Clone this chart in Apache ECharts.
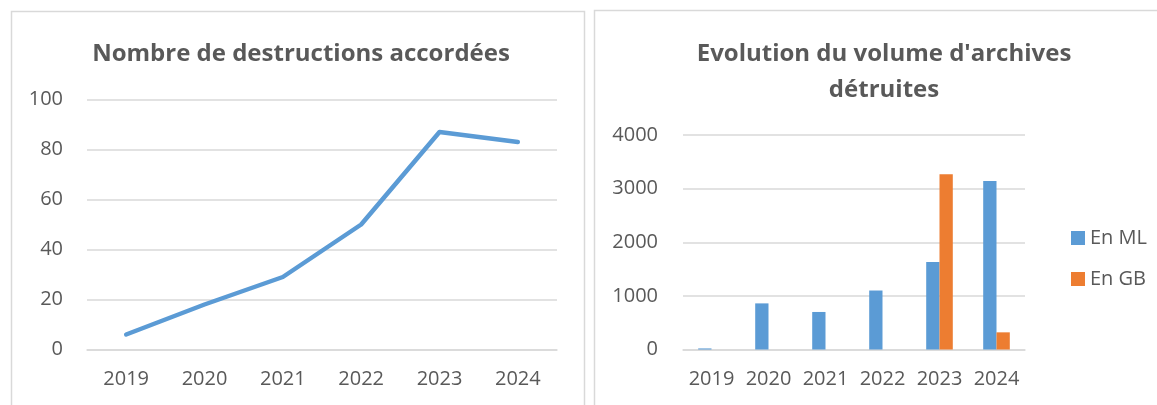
<!DOCTYPE html>
<html>
<head>
<meta charset="utf-8">
<script src="https://cdn.jsdelivr.net/npm/echarts@6/dist/echarts.min.js"></script>
<style>
html,body{margin:0;padding:0;background:#fff;}
#c{width:1157px;height:405px;}
</style>
</head>
<body>
<div id="c"></div>
<script>
const years = ['2019','2020','2021','2022','2023','2024'];
const destructions = [6, 18, 29, 50, 87, 83];
const volumeML = [20, 860, 700, 1100, 1630, 3140];
const volumeGB = [null, null, null, null, 3270, 320];
const leftTicks = {min: 0, max: 100, interval: 20};
const rightTicks = {min: 0, max: 4000, interval: 1000};

const FONT = '"Open Sans", sans-serif';
const TXT = '#595959';
const GRID = '#d9d9d9';

const chart = echarts.init(document.getElementById('c'), null, {renderer: 'canvas'});

const axisLabel = {color: TXT, fontSize: 20, fontFamily: FONT, formatter: v => String(v)};

chart.setOption({
  animation: false,
  backgroundColor: '#fff',
  graphic: [
    {type: 'rect', shape: {x: 11.5, y: 11.5, width: 573, height: 420}, style: {fill: 'none', stroke: GRID, lineWidth: 1.5}, silent: true},
    {type: 'rect', shape: {x: 594.5, y: 10.5, width: 600, height: 420}, style: {fill: 'none', stroke: GRID, lineWidth: 1.5}, silent: true}
  ],
  title: [
    {text: 'Nombre de destructions accordées', left: 296, top: 36, textAlign: 'center',
     textStyle: {color: TXT, fontSize: 24, fontWeight: 'bold', fontFamily: FONT, lineHeight: 26}},
    {text: "Evolution du volume d'archives\ndétruites", left: 879, top: 31, textAlign: 'center',
     textStyle: {color: TXT, fontSize: 24, fontWeight: 'bold', fontFamily: FONT, lineHeight: 36}}
  ],
  legend: {
    data: ['En ML', 'En GB'],
    orient: 'vertical',
    left: 1066,
    top: 223,
    itemWidth: 14,
    itemHeight: 14,
    itemGap: 21,
    icon: 'rect',
    textStyle: {color: TXT, fontSize: 20, fontFamily: FONT}
  },
  grid: [
    {left: 87, top: 99.5, width: 470, height: 250, containLabel: false},
    {left: 683, top: 135, width: 342, height: 214.5, containLabel: false}
  ],
  xAxis: [
    {type: 'category', gridIndex: 0, data: years, boundaryGap: true,
     axisLine: {lineStyle: {color: GRID, width: 1.5}}, axisTick: {show: false},
     axisLabel: Object.assign({}, axisLabel, {margin: 20, interval: 0})},
    {type: 'category', gridIndex: 1, data: years, boundaryGap: true,
     axisLine: {lineStyle: {color: GRID, width: 1.5}}, axisTick: {show: false},
     axisLabel: Object.assign({}, axisLabel, {margin: 20, interval: 0, hideOverlap: false})}
  ],
  yAxis: [
    {type: 'value', gridIndex: 0, min: leftTicks.min, max: leftTicks.max, interval: leftTicks.interval,
     axisLine: {show: false}, axisTick: {show: false},
     splitLine: {lineStyle: {color: GRID, width: 1.5}},
     axisLabel: Object.assign({}, axisLabel, {margin: 24})},
    {type: 'value', gridIndex: 1, min: rightTicks.min, max: rightTicks.max, interval: rightTicks.interval,
     axisLine: {show: false}, axisTick: {show: false},
     splitLine: {lineStyle: {color: GRID, width: 1.5}},
     axisLabel: Object.assign({}, axisLabel, {margin: 25})}
  ],
  series: [
    {name: 'Destructions', type: 'line', xAxisIndex: 0, yAxisIndex: 0, data: destructions,
     showSymbol: false, symbol: 'none',
     lineStyle: {color: '#5b9bd5', width: 4.5, cap: 'round', join: 'round'}},
    {name: 'En ML', type: 'bar', xAxisIndex: 1, yAxisIndex: 1, data: volumeML,
     barWidth: 13.3, barGap: '0%', itemStyle: {color: '#5b9bd5'}},
    {name: 'En GB', type: 'bar', xAxisIndex: 1, yAxisIndex: 1, data: volumeGB,
     barWidth: 13.3, barGap: '0%', itemStyle: {color: '#ed7d31'}}
  ]
});
</script>
</body>
</html>
